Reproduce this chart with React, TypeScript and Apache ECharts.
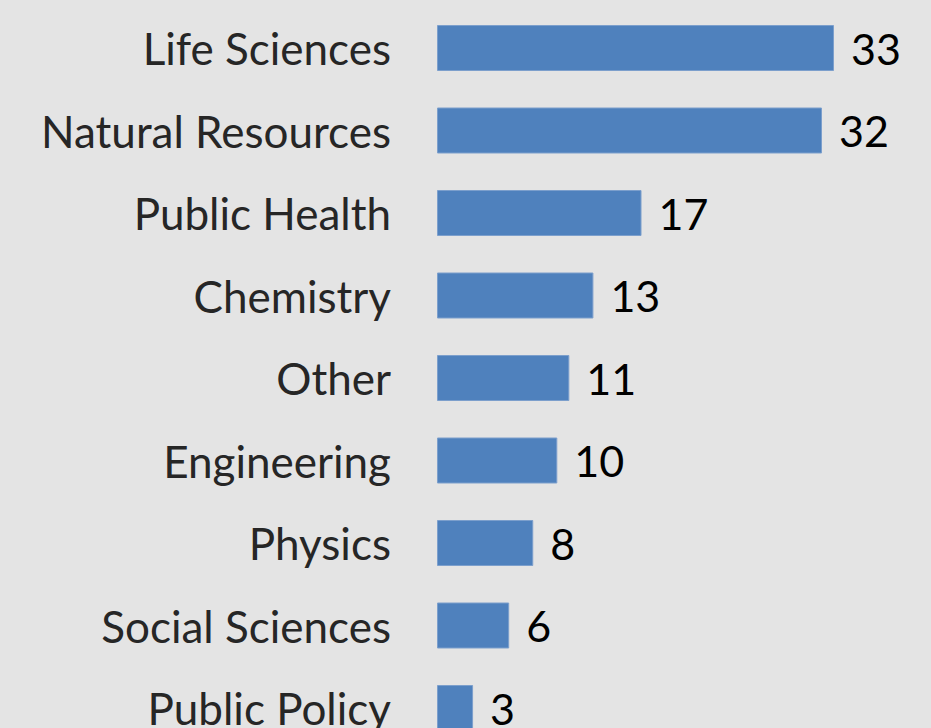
import React, { useEffect, useRef } from "react";
import * as echarts from "echarts";

const categories = [
  "Life Sciences",
  "Natural Resources",
  "Public Health",
  "Chemistry",
  "Other",
  "Engineering",
  "Physics",
  "Social Sciences",
  "Public Policy",
];
const values = [33, 32, 17, 13, 11, 10, 8, 6, 3];

export default function App() {
  const ref = useRef<HTMLDivElement>(null);
  useEffect(() => {
    if (!ref.current) return;
    const chart = echarts.init(ref.current, null, { renderer: "svg" });
    chart.setOption({
      animation: false,
      backgroundColor: "#e4e4e4",
      grid: { left: 437, right: 97, top: 6.75, bottom: 0.75, containLabel: false },
      xAxis: {
        type: "value",
        min: 0,
        max: 33,
        show: false,
      },
      yAxis: {
        type: "category",
        data: categories,
        inverse: true,
        axisLine: { show: false },
        axisTick: { show: false },
        axisLabel: {
          margin: 46,
          fontFamily: "Lato",
          fontSize: 44,
          color: "#262626",
        },
      },
      series: [
        {
          type: "bar",
          data: values,
          barWidth: 46,
          itemStyle: { color: "#4f81bd", borderColor: "#7c9fcc", borderWidth: 1 },
          label: {
            show: true,
            position: "right",
            distance: 17,
            fontFamily: "Lato",
            fontSize: 43,
            color: "#000000",
          },
        },
      ],
    });
    return () => chart.dispose();
  }, []);
  return (
    <div
      ref={ref}
      style={{ position: "fixed", top: 0, left: 0, width: 931, height: 750 }}
    />
  );
}
